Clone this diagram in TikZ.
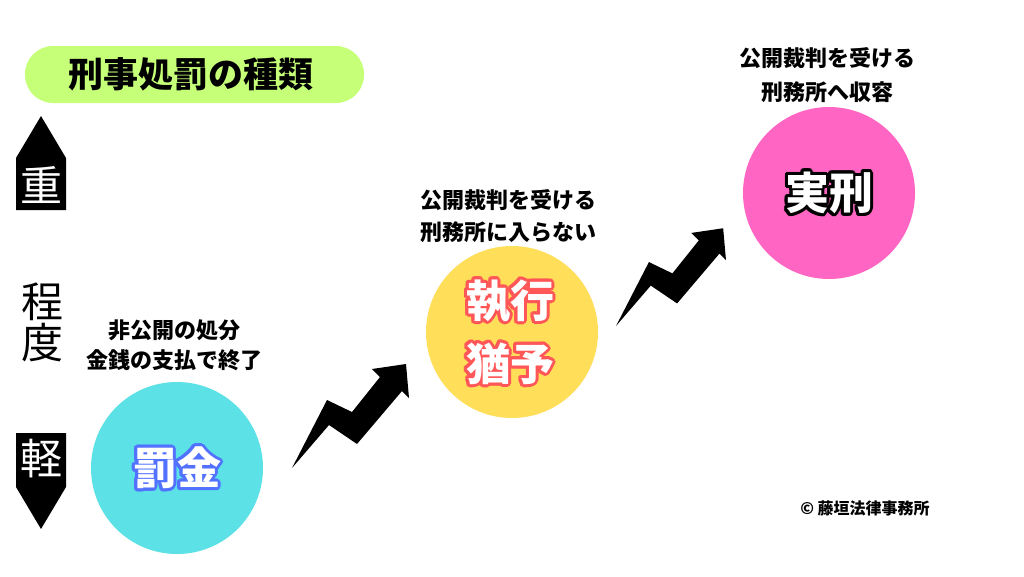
\documentclass[tikz,border=0pt]{standalone}
\usepackage{fontspec}
\setmainfont{Noto Sans CJK JP}
\usetikzlibrary{calc}
\definecolor{TitleGreen}{HTML}{C6FF78}
\definecolor{FineCyan}{HTML}{5CE1E6}
\definecolor{StayYellow}{HTML}{FFDE59}
\definecolor{PrisonPink}{HTML}{FF66C4}
\definecolor{FineBlue}{HTML}{5271FF}
\definecolor{StayRed}{HTML}{FF5757}

% White text with a coloured rim: name, place, rim colour, text
\newcommand{\rimtext}[4]{%
    \foreach \ang in {0,20,...,340}
        \node[bigtext, text=#3] at ($(#2)+(\ang:3)$) {#4};
    \node[bigtext, text=white] (#1) at (#2) {#4};
}

\begin{document}
\begin{tikzpicture}[x=1pt, y=-1pt,
    bigtext/.style={inner sep=0pt, align=center, font=\bfseries\fontsize{44}{63}\selectfont},
    desc/.style={inner sep=0pt, align=center, font=\bfseries\fontsize{22}{32}\selectfont},
    level/.style={inner sep=0pt, align=center, font=\fontsize{42}{41}\selectfont},
    stage/.style={circle, inner sep=0pt, minimum size=172pt},
    zigarrow/.pic={
        \fill[black] (0,0) -- (35,-68) -- (60,-56) -- (88,-91) -- (80,-99)
            -- (114,-104) -- (117,-70) -- (110,-77) -- (65,-24) -- (37,-43) -- cycle;
    }]
    % Background
    \fill[white] (0,0) rectangle (1024,576);
    \useasboundingbox (0,0) rectangle (1024,576);

    % Title
    \node[fill=TitleGreen, rounded corners=28pt, minimum width=339pt, minimum height=57pt,
        inner sep=0pt, font=\bfseries\fontsize{35}{40}\selectfont] (title) at (194.5,74.5)
        {\hspace*{-7pt}刑事処罰の種類};

    % Scale: heavy to light
    \fill[black] (16,210) -- (16,158) -- (41,116) -- (66,158) -- (66,210) -- cycle;
    \node[level, text=white] (heavy) at (41,185) {重};
    \node[level] (degree) at (42,322) {程\\度};
    \fill[black] (16,433) -- (66,433) -- (66,487) -- (41,529) -- (16,487) -- cycle;
    \node[level, text=white] (light) at (41,459) {軽};

    % Stages
    \node[stage, fill=FineCyan] (fine) at (177,468) {};
    \node[stage, fill=StayYellow] (stay) at (512,332) {};
    \node[stage, fill=PrisonPink] (prison) at (829,193) {};

    \rimtext{finetext}{fine}{FineBlue}{罰金}
    \rimtext{staytext}{510,332}{StayRed}{執行\\猶予}
    \rimtext{prisontext}{prison}{black}{実刑}

    % Notes above the stages
    \node[desc, font=\bfseries\fontsize{22}{30}\selectfont] (finenote) at (174,345)
        {非公開の処分\\金銭の支払で終了};
    \node[desc] (staynote) at (508,216) {公開裁判を受ける\\刑務所に入らない};
    \node[desc, font=\bfseries\fontsize{22}{34}\selectfont] (prisonnote) at (827,75)
        {公開裁判を受ける\\刑務所へ収容};

    % Steps up
    \pic at (292,468) {zigarrow};
    \pic[scale=0.94] at (616,326) {zigarrow};

    % Credit
    \node[inner sep=0pt, font=\bfseries\fontsize{16}{18}\selectfont] (credit) at (865,508)
        {© 藤垣法律事務所};
\end{tikzpicture}
\end{document}
